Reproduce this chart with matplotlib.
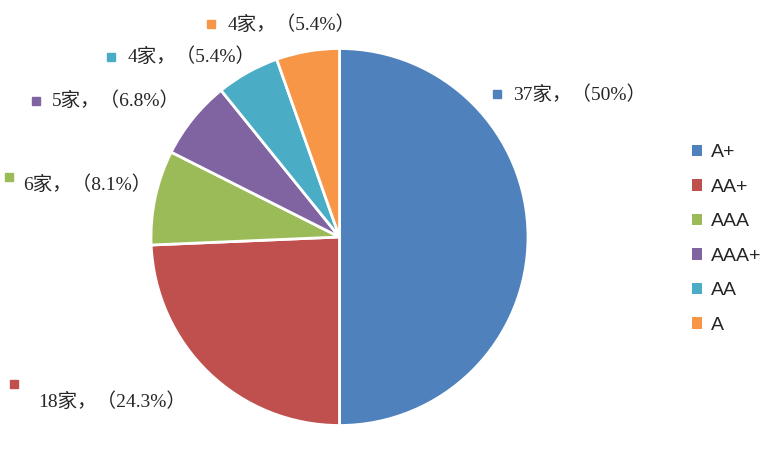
import matplotlib
matplotlib.use('Agg')
import matplotlib.pyplot as plt
import numpy as np

# 数据
ratings = ['A+', 'AA+', 'AAA', 'AAA+', 'AA', 'A']
counts = [37, 18, 6, 5, 4, 4]
colors = ['#4F81BD', '#C0504D', '#9BBB59', '#8064A2', '#4BACC6', '#F79646']

# label positions in pixels (square marker x, y, text x, text y)
label_pos = [
    (497, 94, 513, 95),
    (14, 384, 38, 402),
    (9, 177, 23, 185),
    (36, 101, 52, 101),
    (111, 57, 128, 57),
    (211, 24, 228, 25),
]

W, H = 776, 475
fig = plt.figure(figsize=(W / 100, H / 100), dpi=100)

# pie axes: centre (339.5, 237), radius 188.5 px
cx, cy, r = 339.5, 237, 188.5
ax = fig.add_axes([(cx - r) / W, (H - cy - r) / H, 2 * r / W, 2 * r / H])
wedges, _ = ax.pie(counts, colors=colors, startangle=90, counterclock=False,
                   wedgeprops=dict(edgecolor='white', linewidth=2))
ax.set_xlim(-1, 1)
ax.set_ylim(-1, 1)

# overlay in pixel coords for the data labels
ov = fig.add_axes([0, 0, 1, 1])
ov.set_xlim(0, W)
ov.set_ylim(H, 0)
ov.axis('off')

total = sum(counts)
for n, c, (sx, sy, tx, ty) in zip(counts, colors, label_pos):
    pct = round(n / total * 100, 1)
    pct_s = ('%.1f' % pct).rstrip('0').rstrip('.')
    ov.plot(sx, sy, marker='s', markersize=6, color=c, linestyle='none')
    ov.text(tx, ty, f'{n}家，（{pct_s}%）', va='center', ha='left',
            fontsize=14, color='#262626',
            family=['Liberation Serif', 'Noto Sans CJK SC'])

# legend
leg = fig.legend(wedges, ratings, loc='center left',
                 bbox_to_anchor=(674 / W, 1 - 239 / H),
                 frameon=False, handlelength=0.55, handleheight=0.55,
                 handletextpad=0.45, labelspacing=0.9,
                 prop=dict(family='Liberation Sans', size=14))
for t in leg.get_texts():
    t.set_color('#262626')
for h in leg.legend_handles:
    h.set_edgecolor('none')

fig.savefig('out.png', dpi=100)
